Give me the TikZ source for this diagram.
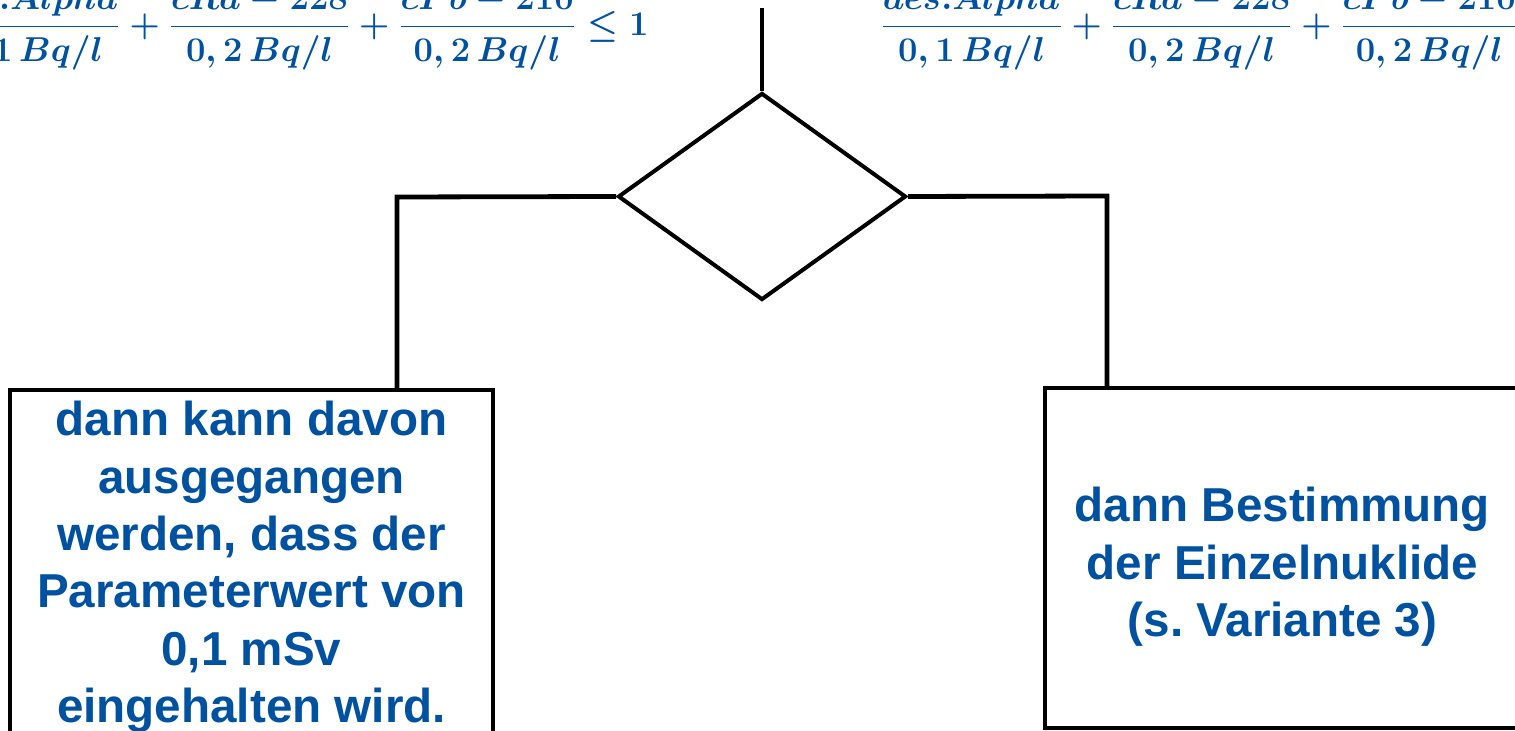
\documentclass[tikz,border=0pt]{standalone}
\usepackage[no-math]{fontspec}
\newfontfamily\boxfont{Liberation Sans}
\usetikzlibrary{shapes.geometric}
\definecolor{formelblau}{RGB}{0,82,160}
\newcommand{\summeA}{\frac{des.Alpha}{0,1\,Bq/l}+\frac{cRa-228}{0,2\,Bq/l}+\frac{cPb-210}{0,2\,Bq/l}}
\frenchspacing

\begin{document}
\begin{tikzpicture}[x=0.5pt,y=-0.5pt,
  linie/.style={line width=2.4pt,color=black},
  kasten/.style={draw,line width=2pt,inner sep=0pt,text=formelblau,align=center,
    font=\boxfont\bfseries\fontsize{23.8}{28.7}\selectfont},
  formel/.style={inner sep=0pt,text=formelblau,font=\boldmath\fontsize{18.7}{22}\selectfont}]
\useasboundingbox (0,0) rectangle (1515,731);
\clip (0,0) rectangle (1515,731);

% Bedingung oben
\node[formel,anchor=base east] (bedL) at (649,35.4) {$\displaystyle\summeA\leq 1$};
\node[formel,anchor=base west] (bedR) at (880,35.4) {$\displaystyle\summeA$};

\coordinate (start) at (762,8);
\node[draw,diamond,line width=2pt,minimum width=144pt,minimum height=103.5pt,inner sep=0pt] (raute) at (762,196.5) {};

\node[kasten,minimum width=241.5pt,minimum height=177pt] (ja) at (251.5,567) {dann kann davon\\ausgegangen\\werden, dass der\\Parameterwert von\\0,1 mSv\\eingehalten wird.};
\node[kasten,minimum width=237.5pt,minimum height=170pt] (nein) at (1282.5,558) {\rule{0pt}{26pt}dann Bestimmung\\der Einzelnuklide\\(s. Variante 3)};

\coordinate (knickL) at (397,197);
\coordinate (knickR) at (1107,196);

\draw[linie] (start) -- (raute.north);
\draw[linie] (raute.west) -- (knickL) -- (knickL |- ja.north);
\draw[linie] (raute.east) -- (knickR) -- (knickR |- nein.north);

\end{tikzpicture}
\end{document}
